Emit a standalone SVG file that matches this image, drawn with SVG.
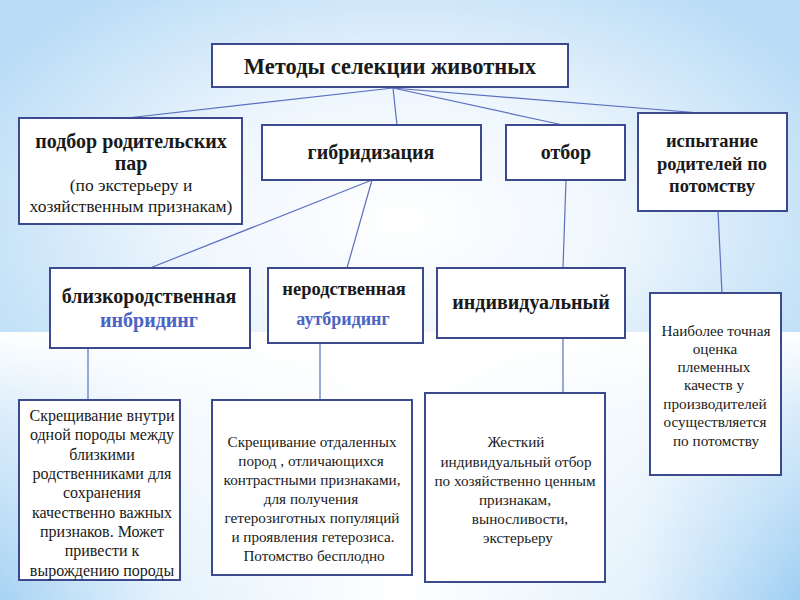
<svg xmlns="http://www.w3.org/2000/svg" width="800" height="600" viewBox="0 0 800 600">
<defs>
<radialGradient id="gTop" cx="400" cy="220" r="480" gradientUnits="userSpaceOnUse" gradientTransform="translate(400 220) scale(1 0.6) translate(-400 -220)">
<stop offset="0" stop-color="#ffffff"/>
<stop offset="0.45" stop-color="#eef6fd"/>
<stop offset="1" stop-color="#b9dcf6"/>
</radialGradient>
<linearGradient id="gBotH" x1="0" y1="0" x2="1" y2="0">
<stop offset="0" stop-color="#a7d3f4"/>
<stop offset="0.2" stop-color="#e3f1fc"/>
<stop offset="0.5" stop-color="#ffffff"/>
<stop offset="0.8" stop-color="#e3f1fc"/>
<stop offset="1" stop-color="#9fcff3"/>
</linearGradient>
<linearGradient id="gBotV" x1="0" y1="0" x2="0" y2="1">
<stop offset="0" stop-color="#ffffff" stop-opacity="1"/>
<stop offset="0.3" stop-color="#ffffff" stop-opacity="0.6"/>
<stop offset="1" stop-color="#ffffff" stop-opacity="0"/>
</linearGradient>
<style>
.box{fill:#ffffff;stroke:#3b4a8e;stroke-width:2}
.con line{stroke:#5b6fc0;stroke-width:1.2;fill:none}
text{font-family:"Liberation Serif","DejaVu Serif",serif;fill:#1a1a1a;text-anchor:middle}
.b{font-weight:bold;font-size:20px}
.b2{font-weight:bold;font-size:18.5px}
.b3{font-weight:bold;font-size:18px}
.t{font-weight:bold;font-size:22.5px}
.n{font-size:17.5px}
.s{font-size:15.2px}
.sa{font-size:16px}
.blue{fill:#4b63c4}
</style>
</defs>
<rect x="0" y="0" width="800" height="600" fill="#cfe7f9"/>
<rect x="0" y="0" width="800" height="332" fill="url(#gTop)"/>
<rect x="0" y="332" width="800" height="268" fill="url(#gBotH)"/>
<rect x="0" y="332" width="800" height="268" fill="url(#gBotV)"/>

<g id="connectors" class="con">
<line x1="393" y1="88" x2="127" y2="118"/>
<line x1="393" y1="88" x2="397" y2="125"/>
<line x1="393" y1="88" x2="563" y2="125"/>
<line x1="393" y1="88" x2="700" y2="113"/>
<line x1="372" y1="180" x2="150" y2="268"/>
<line x1="372" y1="180" x2="347" y2="268"/>
<line x1="566" y1="180" x2="563" y2="268"/>
<line x1="718" y1="211" x2="722" y2="293"/>
<line x1="88" y1="348" x2="88" y2="400"/>
<line x1="320" y1="343" x2="320" y2="400"/>
<line x1="563" y1="338" x2="563" y2="393"/>
</g>

<g id="root">
<rect class="box" x="212" y="44" width="356" height="43"/>
<text class="t" x="390" y="74">Методы селекции животных</text>
</g>

<g id="podbor">
<rect class="box" x="19" y="118" width="223" height="106"/>
<text class="b" x="131" y="148">подбор родительских</text>
<text class="b" x="131" y="170">пар</text>
<text class="n" x="131" y="191">(по экстерьеру и</text>
<text class="n" x="131" y="212">хозяйственным признакам)</text>
</g>

<g id="gibrid">
<rect class="box" x="262" y="125" width="219" height="55"/>
<text class="b" x="371" y="159">гибридизация</text>
</g>

<g id="otbor">
<rect class="box" x="506" y="125" width="119" height="55"/>
<text class="b" x="566" y="159">отбор</text>
</g>

<g id="ispyt">
<rect class="box" x="638" y="113" width="149" height="98"/>
<text class="b2" x="712" y="147">испытание</text>
<text class="b2" x="712" y="170">родителей по</text>
<text class="b2" x="712" y="192">потомству</text>
</g>

<g id="inbr">
<rect class="box" x="50" y="268" width="200" height="80"/>
<text class="b" x="149" y="303">близкородственная</text>
<text class="b blue" x="149" y="327">инбридинг</text>
</g>

<g id="autbr">
<rect class="box" x="268" y="268" width="155" height="75"/>
<text class="b2" x="344" y="295">неродственная</text>
<text class="b3 blue" x="343" y="325">аутбридинг</text>
</g>

<g id="indiv">
<rect class="box" x="437" y="268" width="188" height="70"/>
<text class="b" x="531" y="309">индивидуальный</text>
</g>

<g id="naib">
<rect class="box" x="650" y="293" width="131" height="182"/>
<text class="s" x="716" y="336">Наиболее точная</text>
<text class="s" x="715" y="354">оценка</text>
<text class="s" x="714" y="372">племенных</text>
<text class="s" x="714" y="390">качеств у</text>
<text class="s" x="715" y="409">производителей</text>
<text class="s" x="715" y="427">осуществляется</text>
<text class="s" x="716" y="446">по потомству</text>
</g>

<g id="descA">
<rect class="box" x="19" y="400" width="161" height="180"/>
<text class="sa" x="102" y="421">Скрещивание внутри</text>
<text class="sa" x="102" y="440">одной породы между</text>
<text class="sa" x="102" y="460">близкими</text>
<text class="sa" x="102" y="479">родственниками для</text>
<text class="sa" x="102" y="498">сохранения</text>
<text class="sa" x="102" y="518">качественно важных</text>
<text class="sa" x="102" y="537">признаков. Может</text>
<text class="sa" x="102" y="556">привести к</text>
<text class="sa" x="102" y="576">вырождению породы</text>
</g>

<g id="descB">
<rect class="box" x="212" y="400" width="200" height="175"/>
<text class="s" x="312" y="447">Скрещивание отдаленных</text>
<text class="s" x="311" y="466">пород , отличающихся</text>
<text class="s" x="312" y="485">контрастными признаками,</text>
<text class="s" x="311" y="504">для получения</text>
<text class="s" x="312" y="523">гетерозиготных популяций</text>
<text class="s" x="313" y="542">и проявления гетерозиса.</text>
<text class="s" x="314" y="561">Потомство бесплодно</text>
</g>

<g id="descC">
<rect class="box" x="425" y="393" width="180" height="189"/>
<text class="s" x="516" y="447">Жесткий</text>
<text class="s" x="516" y="467">индивидуальный отбор</text>
<text class="s" x="515" y="486">по хозяйственно ценным</text>
<text class="s" x="515" y="505">признакам,</text>
<text class="s" x="520" y="524">выносливости,</text>
<text class="s" x="518" y="543">экстерьеру</text>
</g>
</svg>
